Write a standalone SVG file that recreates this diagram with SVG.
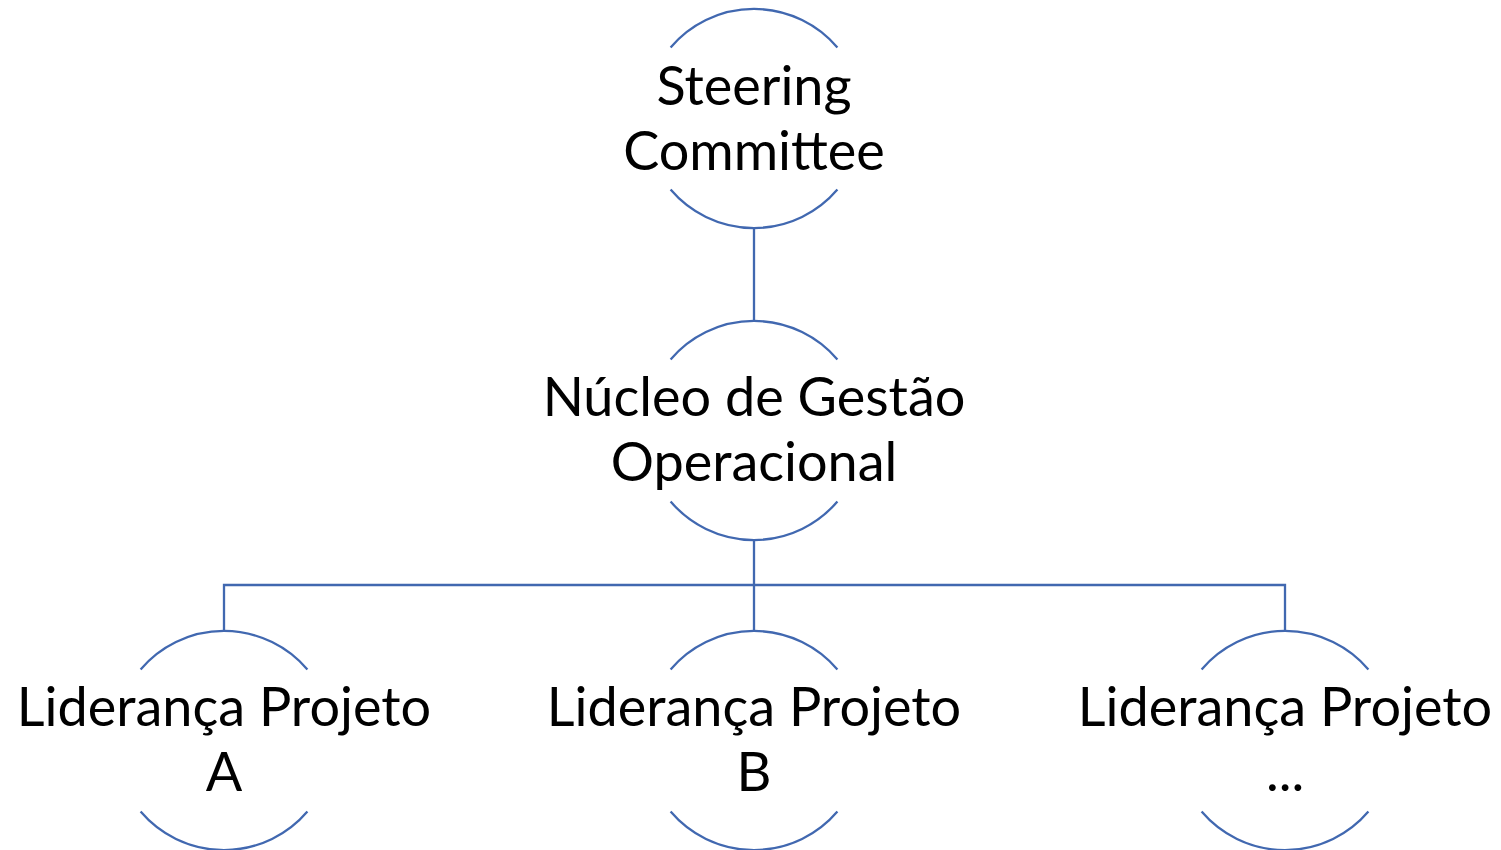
<svg xmlns="http://www.w3.org/2000/svg" xmlns:xlink="http://www.w3.org/1999/xlink" width="1501" height="850" viewBox="0 0 1501 850">
<style>
.arc{fill:none;stroke:#4168B0;stroke-width:2.3}
.con{fill:none;stroke:#4168B0;stroke-width:2.3}
.t{font-family:Lato,"Open Sans",sans-serif;font-size:54px;fill:#000;text-anchor:middle}
</style>
<defs>
<path id="arcs" class="arc" d="M-83.4,-71 A109.5,109.5 0 0 1 83.4,-71 M-83.4,71 A109.5,109.5 0 0 0 83.4,71"/>
</defs>
<rect width="1501" height="850" fill="#fff"/>
<g id="connectors">
<path class="con" d="M754,228.5 V321"/>
<path class="con" d="M754,540 V632"/>
<path class="con" d="M224,632 V585 H1285 V632"/>
</g>
<g id="node-steering" transform="translate(754,118.5)">
<use xlink:href="#arcs"/>
<text class="t" x="0" y="-14">Steering</text>
<text class="t" x="0" y="51">Committee</text>
</g>
<g id="node-nucleo" transform="translate(754,430.5)">
<use xlink:href="#arcs"/>
<text class="t" x="0" y="-15">Núcleo de Gestão</text>
<text class="t" x="0" y="50">Operacional</text>
</g>
<g id="node-a" transform="translate(224,740.5)">
<use xlink:href="#arcs"/>
<text class="t" x="0" y="-14.5">Liderança Projeto</text>
<text class="t" x="0" y="50.5">A</text>
</g>
<g id="node-b" transform="translate(754,740.5)">
<use xlink:href="#arcs"/>
<text class="t" x="0" y="-14.5">Liderança Projeto</text>
<text class="t" x="0" y="50.5">B</text>
</g>
<g id="node-c" transform="translate(1285,740.5)">
<use xlink:href="#arcs"/>
<text class="t" x="0" y="-14.5">Liderança Projeto</text>
<text class="t" x="0" y="50.5">...</text>
</g>
</svg>
